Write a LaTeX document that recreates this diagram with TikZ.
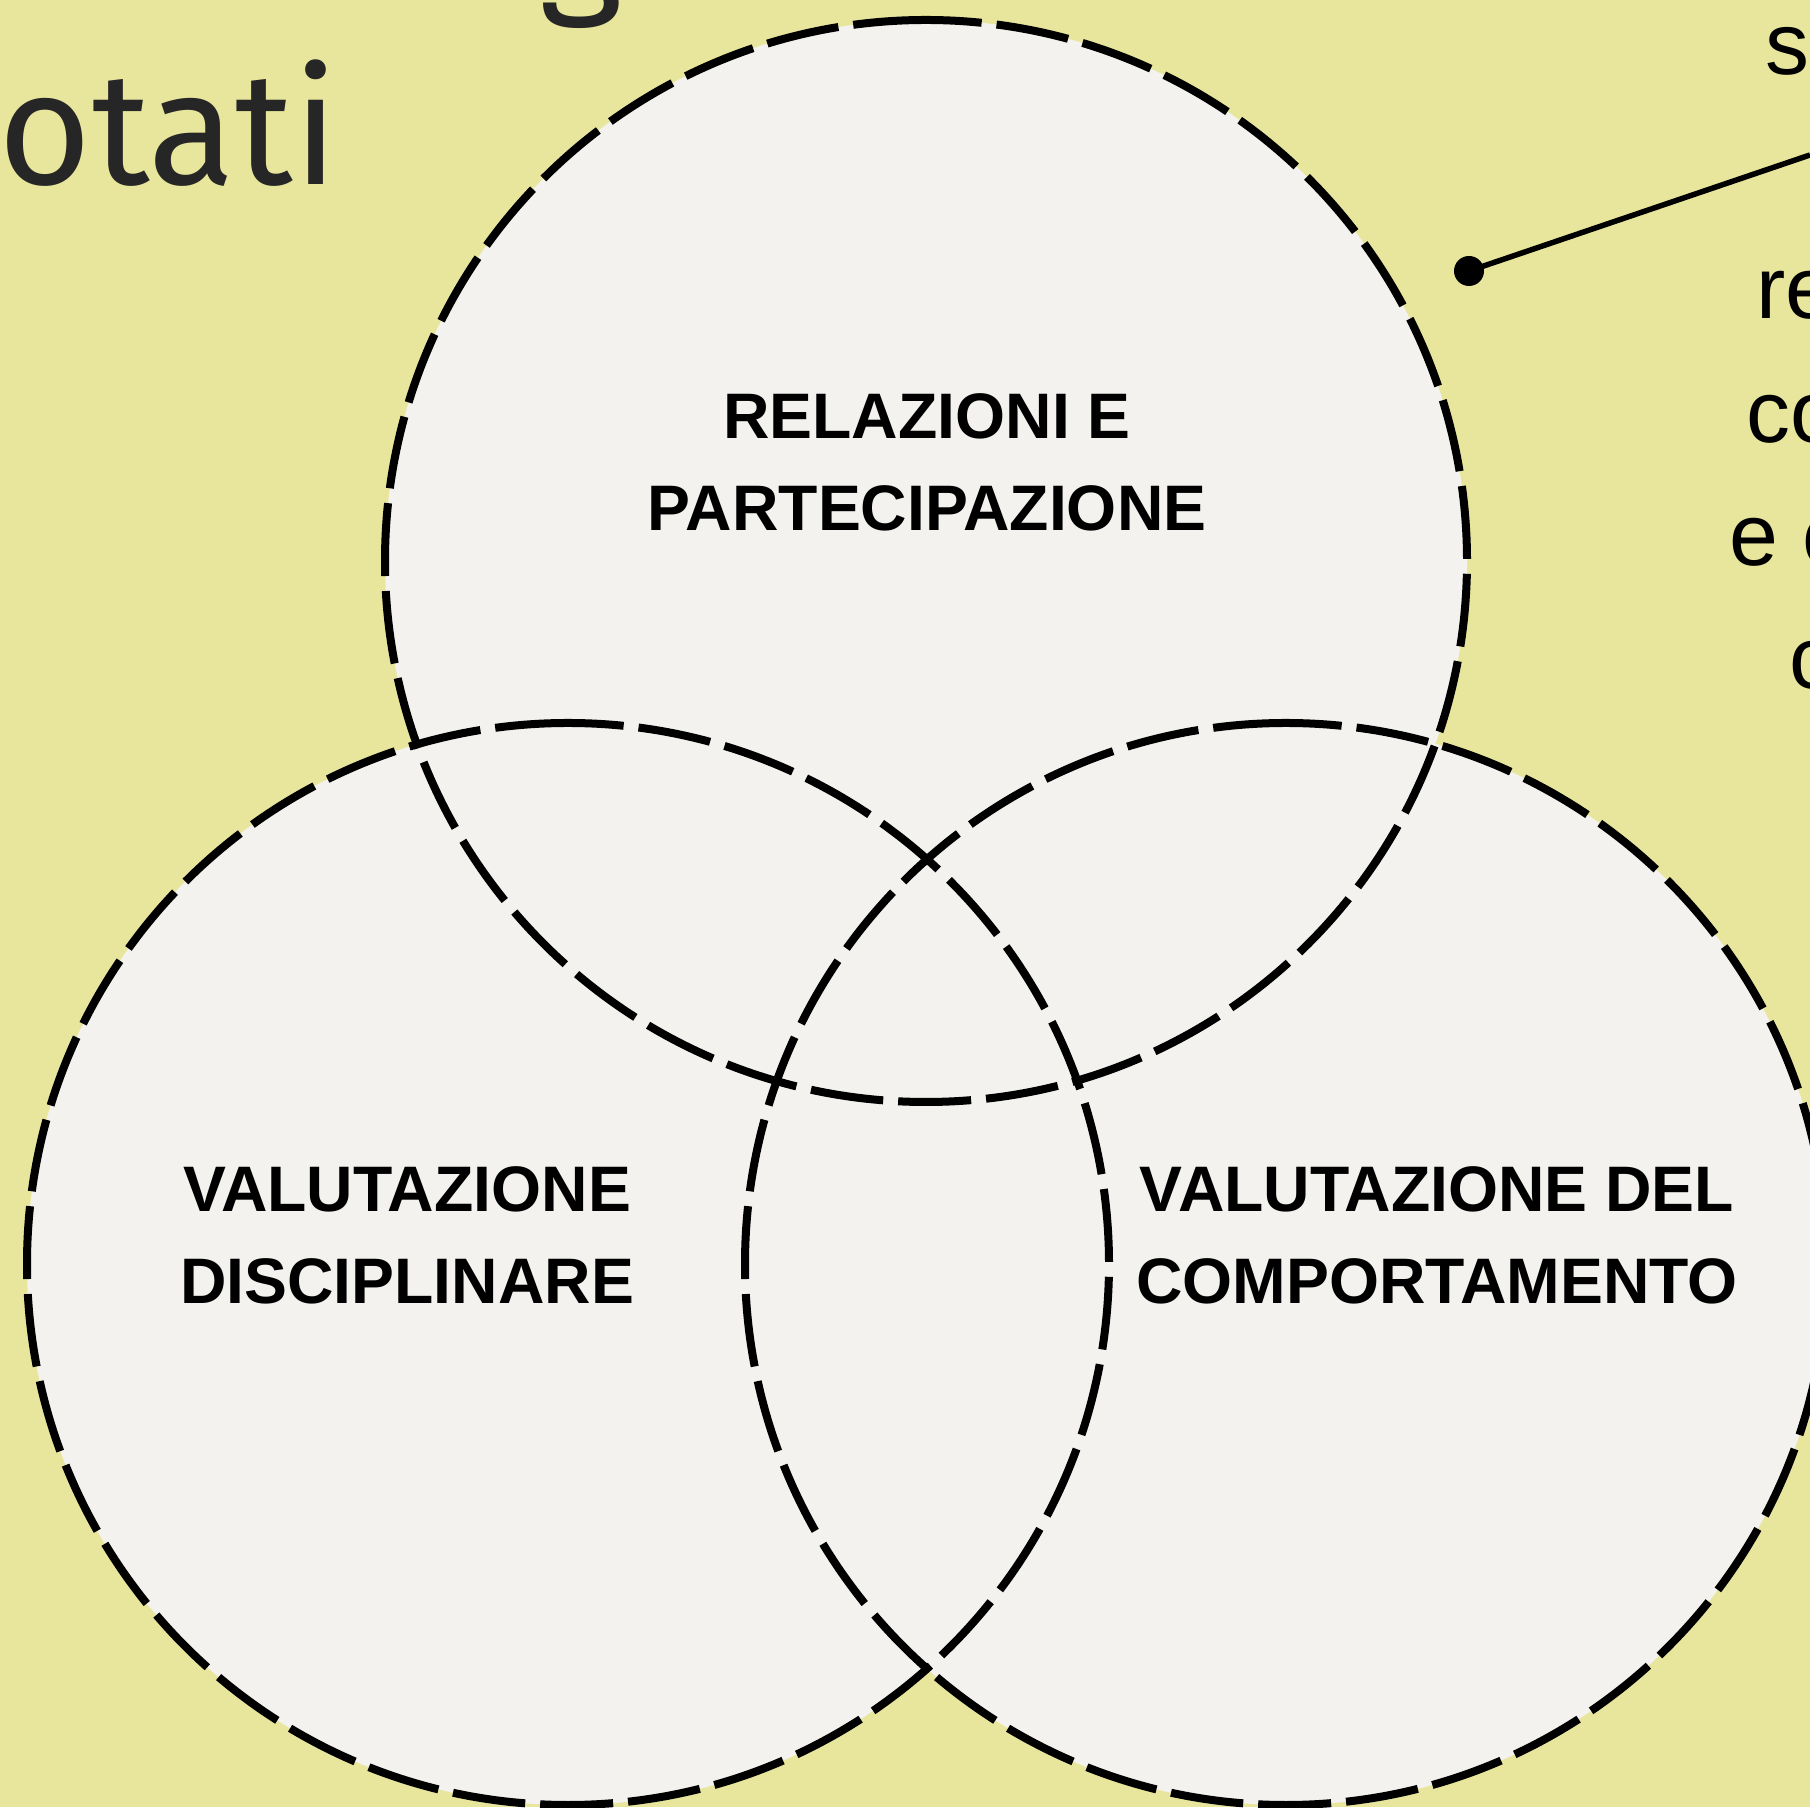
\documentclass[tikz,border=0pt]{standalone}
\usepackage{fontspec}
\usepackage{graphicx}
\setmainfont{Liberation Sans}
\newfontfamily\titlefont{Fira Sans}
\definecolor{bgcol}{RGB}{232,230,156}
\definecolor{circcol}{RGB}{243,242,238}
\definecolor{darkgray}{RGB}{38,38,38}
\tikzset{
  vennfill/.style={circle, fill=circcol, minimum size=10.82cm, inner sep=0pt},
  venndash/.style={draw=black, line width=0.08cm, dash pattern=on 0.73cm off 0.15cm},
  vlabel/.style={anchor=base, inner sep=0pt, font=\bfseries\fontsize{18.3}{22}\selectfont, text=black},
  sidetext/.style={anchor=base west, inner sep=0pt, font=\fontsize{25}{30}\selectfont, text=black},
  bigtext/.style={inner sep=0pt, font=\titlefont\fontsize{45.5}{52}\selectfont, text=darkgray},
}
\begin{document}
\begin{tikzpicture}
\useasboundingbox (0,0) rectangle (18.10,18.07);
\clip (0,0) rectangle (18.10,18.07);
\fill[bgcol] (0,0) rectangle (18.10,18.07);

% background texts (cut by the edges)
\node[bigtext, anchor=base west] (otati) at (-0.02,16.22) {otati};
\node[bigtext, anchor=base] (gpart) at (5.81,18.12) {g};
\node[sidetext] (t1) at (17.65,17.32) {s};
\node[sidetext] (t2) at (17.56,14.88) {re};
\node[sidetext] (t3) at (17.46,13.64) {co};
\node[sidetext] (t4) at (17.285,12.41) {e c};
\node[sidetext] (t5) at (17.89,11.18) {c};

% pointer
\node[circle, fill=black, minimum size=0.30cm, inner sep=0pt] (dot) at (14.69,15.36) {};
\coordinate (lineend) at (18.10,16.52);
\draw[line width=0.055cm] (dot.center) -- (lineend);

% circles
\node[vennfill] (rel) at (9.26,12.46) {};
\node[vennfill] (disc) at (5.68,5.43) {};
\node[vennfill] (comp) at (12.86,5.43) {};
\draw[venndash] (rel.center) ++(90:5.41) arc[start angle=90, end angle=450, radius=5.41];
\draw[venndash] (disc.center) ++(90:5.41) arc[start angle=90, end angle=450, radius=5.41];
\draw[venndash] (comp.center) ++(90:5.41) arc[start angle=90, end angle=450, radius=5.41];

% labels
\node[vlabel] (relA) at (9.27,13.68) {RELAZIONI E};
\node[vlabel] (relB) at (9.27,12.76) {PARTECIPAZIONE};
\node[vlabel] (discA) at (4.07,5.95) {VALUTAZIONE};
\node[vlabel] (discB) at (4.07,5.03) {DISCIPLINARE};
\node[vlabel] (compA) at (14.37,5.95) {VALUTAZIONE DEL};
\node[vlabel] (compB) at (14.37,5.03) {COMPORTAMENTO};
\end{tikzpicture}
\end{document}
